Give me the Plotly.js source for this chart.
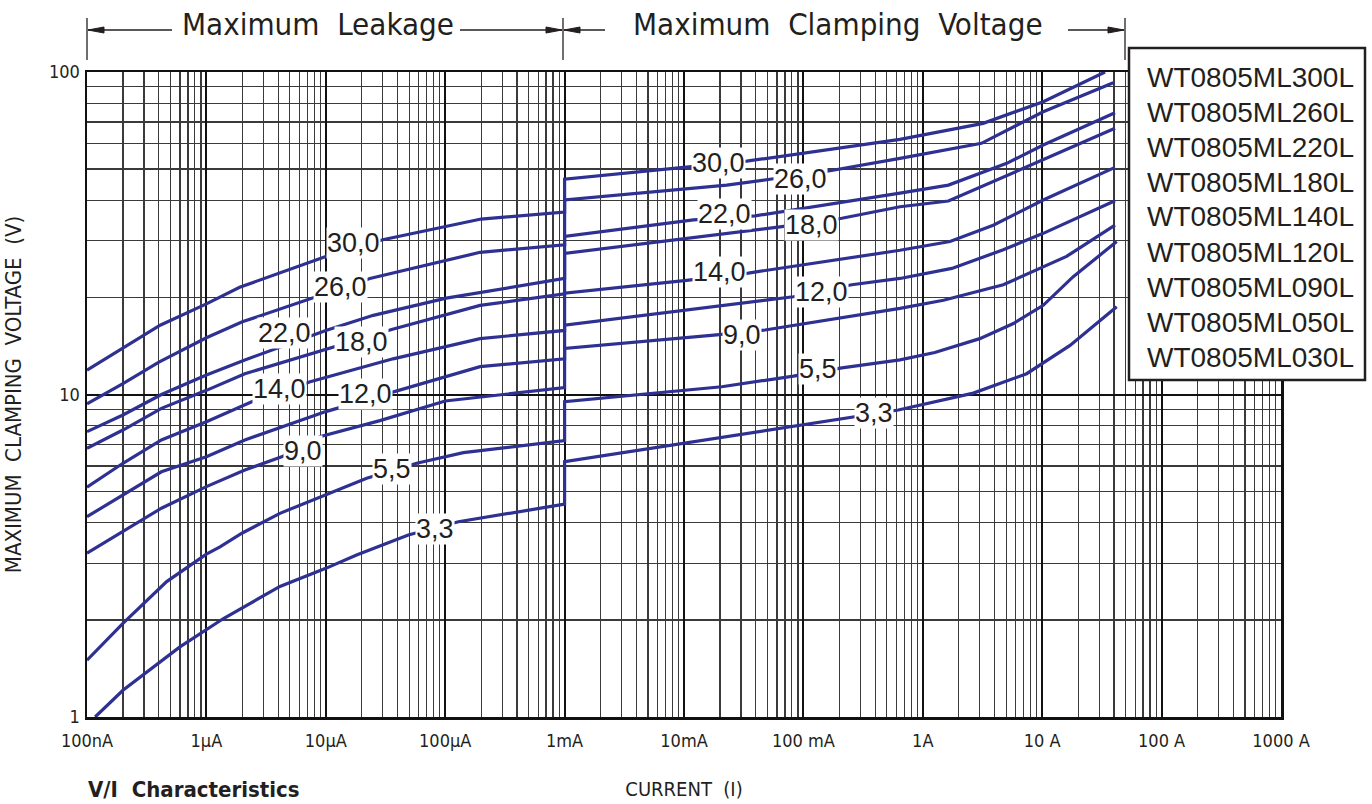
<!DOCTYPE html>
<html><head><meta charset="utf-8">
<script src="https://cdn.plot.ly/plotly-3.0.1.min.js"></script>
<style>html,body{margin:0;padding:0;background:#fff}#chart{width:1372px;height:804px}</style>
</head><body><div id="chart"></div>
<script>
// ---------------- DATA ----------------
const partNames = ['WT0805ML300L','WT0805ML260L','WT0805ML220L','WT0805ML180L','WT0805ML140L',
                   'WT0805ML120L','WT0805ML090L','WT0805ML050L','WT0805ML030L'];
const curveLabels = ['30,0','26,0','22,0','18,0','14,0','12,0','9,0','5,5','3,3'];

// current (A) / voltage (V) per curve, leakage part then clamping part (step at 1 mA)
const i300 = [1e-7,2e-7,4.1e-7,1e-6,1.9e-6,1e-5,3e-5,2e-4,1e-3,1e-3,1.05e-2,3.35e-2,0.644,3.2,10.2,33.6];
const v300 = [11.9,13.9,16.4,19.1,21.5,26.8,30.2,35.0,36.8,46.5,50.6,52.9,61.8,69.3,80.9,100];

const i260 = [1e-7,2e-7,4e-7,1e-6,2e-6,7.6e-6,2.34e-5,1.96e-4,1e-3,1e-3,2.28e-2,5.25e-2,0.167,0.644,3.1,10.2,39.4];
const v260 = [9.36,10.8,12.6,15.0,16.8,19.9,22.9,27.6,29.1,40.1,44.6,46.5,49.4,54.0,60.1,75.3,92.6];

const i220 = [1e-7,2e-7,4.2e-7,1e-6,2.1e-6,4.55e-6,1e-5,2.5e-5,1.02e-4,1e-3,1e-3,1.2e-2,3.94e-2,0.644,1.64,5.05,10.2,40.7];
const v220 = [7.67,8.64,10.0,11.5,12.8,14.2,15.8,17.6,19.9,22.9,30.9,34.8,35.8,42.1,44.6,52.1,59.4,74.8];

const i180 = [1e-7,2e-7,4.2e-7,1e-6,2.1e-6,1e-5,3.56e-5,1.96e-4,1e-3,1e-3,6.37e-2,0.21,0.644,1.64,10.2,40.7];
const v180 = [6.81,7.76,9.06,10.3,11.6,13.8,15.9,18.9,20.5,27.4,33.1,35.2,38.2,39.8,53.3,66.9];

const i140 = [1e-7,2e-7,4.2e-7,1e-6,2.4e-6,7.4e-6,3.66e-5,1.96e-4,1e-3,1e-3,1.05e-2,3.46e-2,0.644,1.69,3.89,10.2,40.7];
const v140 = [5.16,6.12,7.23,8.23,9.5,10.96,12.9,14.9,15.8,20.6,22.6,23.8,28.0,29.8,33.5,40.1,50.6];

const i120 = [1e-7,2e-7,4.2e-7,1e-6,2.1e-6,1e-5,3.8e-5,1.96e-4,1e-3,1e-3,8.24e-2,0.254,0.644,1.75,4.72,10.2,40.7];
const v120 = [4.18,4.88,5.76,6.41,7.23,8.85,10.2,12.2,12.9,16.4,20.1,21.9,22.9,24.6,28.1,31.6,39.9];

const i090 = [1e-7,2e-7,4.2e-7,1e-6,2.1e-6,4.27e-6,8.9e-6,2.84e-5,1e-4,1e-3,1e-3,1.88e-2,4.77e-2,0.644,1.49,4.72,16.0,40.7];
const v090 = [3.22,3.76,4.44,5.18,5.83,6.41,7.40,8.3,9.55,10.5,13.9,15.3,15.85,18.5,19.6,21.9,26.8,33.5];

const i050 = [1e-7,2e-7,4.65e-7,1e-6,1.3e-6,2e-6,4.13e-6,9.85e-6,2.2e-5,5.77e-5,1.42e-4,1e-3,1e-3,2.07e-2,8.24e-2,0.21,0.644,1.26,3.0,5.74,10.2,18.2,42.1];
const v050 = [1.50,1.95,2.63,3.20,3.37,3.72,4.28,4.88,5.5,6.12,6.6,7.2,9.5,10.57,11.4,12.1,12.8,13.5,14.9,16.6,18.9,23.2,29.8];

const i030 = [1.17e-7,2e-7,6e-7,1.39e-6,4.13e-6,1e-5,1.81e-5,4.91e-5,1.29e-4,1e-3,1e-3,0.223,0.624,2.65,7.41,17.1,42.1];
const v030 = [1.0,1.21,1.65,2.02,2.54,2.89,3.18,3.67,4.03,4.57,6.19,8.44,8.95,10.1,11.6,14.2,18.7];

const xTickVals = [1e-7,1e-6,1e-5,1e-4,1e-3,1e-2,1e-1,1,10,100,1000];
const xTickText = ['100nA','1\u00b5A','10\u00b5A','100\u00b5A','1mA','10mA','100 mA','1A','10 A','100 A','1000 A'];
const yTickVals = [1,10,100];
const yTickText = ['1','10','100'];

// ---------------- BUILD ----------------
const currents = [i300,i260,i220,i180,i140,i120,i090,i050,i030];
const voltages = [v300,v260,v220,v180,v140,v120,v090,v050,v030];
const LINE = '#2e3192';

const traces = currents.map((xs, k) => ({
  type: 'scatter', mode: 'lines', name: partNames[k],
  x: xs, y: voltages[k], showlegend: false, hoverinfo: 'x+y+name',
  line: {color: LINE, width: 3.2}
}));

function minorVals(lo, hi) {
  const out = [];
  for (let e = lo; e < hi; e++) for (let d = 2; d <= 9; d++) out.push(d * Math.pow(10, e));
  return out;
}

// label placement on curves (current, voltage) : leakage side and clamping side
const labelPosLeak  = [[1.71e-5,29.6],[1.33e-5,21.5],[4.51e-6,15.5],[1.99e-5,14.5],[4.13e-6,10.4],
                       [2.15e-5,10.04],[6.44e-6,6.68],[3.58e-5,5.87],[8.22e-5,3.83]];
const labelPosClamp = [[1.93e-2,52.2],[9.38e-2,46.6],[2.2e-2,36.3],[0.116,33.5],[2.0e-2,24.0],
                       [0.143,20.8],[3.06e-2,15.3],[0.132,12.0],[0.39,8.76]];

const annotations = [];
const labFont = {family: 'Liberation Sans, Arial, sans-serif', size: 27, color: '#231f20'};
[labelPosLeak, labelPosClamp].forEach(set => set.forEach((p, k) => {
  annotations.push({xref: 'x', yref: 'y', x: Math.log10(p[0]), y: Math.log10(p[1]),
    text: curveLabels[k], showarrow: false, font: labFont, bgcolor: '#ffffff', borderpad: 0,
    xanchor: 'center', yanchor: 'middle'});
}));

// legend text (box drawn as shape)
const W = 1372, H = 804, L = 87, R = 1281, T = 72, B = 717;
const px = x => (x - L) / (R - L);
const py = y => (B - y) / (B - T);
partNames.forEach((n, k) => {
  annotations.push({xref: 'paper', yref: 'paper', x: px(1145), y: py(77 + 35 * k),
    xanchor: 'left', yanchor: 'middle', showarrow: false, text: n,
    font: {family: 'Liberation Sans, Arial, sans-serif', size: 28, color: '#231f20'}});
});

const thinFont = {family: 'DejaVu Sans Condensed, DejaVu Sans, sans-serif', size: 31, color: '#231f20'};
annotations.push({xref: 'paper', yref: 'paper', x: px(318), y: py(24), showarrow: false,
  text: 'Maximum\u00a0\u00a0Leakage', font: thinFont, xanchor: 'center', yanchor: 'middle'});
annotations.push({xref: 'paper', yref: 'paper', x: px(838), y: py(24), showarrow: false,
  text: 'Maximum\u00a0\u00a0Clamping\u00a0\u00a0Voltage', font: thinFont, xanchor: 'center', yanchor: 'middle'});
annotations.push({xref: 'paper', yref: 'paper', x: 0, y: py(803), showarrow: false,
  text: '<b>V/I\u00a0\u00a0Characteristics</b>', xanchor: 'left', yanchor: 'bottom', borderpad: 0,
  font: {family: 'DejaVu Sans Condensed, DejaVu Sans, sans-serif', size: 22, color: '#231f20'}});

const shapes = [];
const lineStyle = {color: '#231f20', width: 1.3};
[87, 563, 1125].forEach(xp => shapes.push({type: 'line', xref: 'paper', yref: 'paper',
  x0: px(xp), x1: px(xp), y0: py(18), y1: py(60), line: lineStyle}));
[[88,172],[460,562],[564,605],[1068,1124]].forEach(s => shapes.push({type: 'line', xref: 'paper', yref: 'paper',
  x0: px(s[0]), x1: px(s[1]), y0: py(30), y1: py(30), line: lineStyle}));
function arrowHead(tip, dir) {
  const b = tip - dir * 16;
  return {type: 'path', xref: 'paper', yref: 'paper', fillcolor: '#231f20', line: {color: '#231f20', width: 1},
    path: `M ${px(tip)} ${py(30)} L ${px(b)} ${py(27)} L ${px(b)} ${py(33)} Z`};
}
shapes.push(arrowHead(88, -1), arrowHead(562, 1), arrowHead(564, -1), arrowHead(1124, 1));
// legend box
shapes.push({type: 'rect', xref: 'paper', yref: 'paper', layer: 'above',
  x0: px(1129), x1: px(1365), y0: py(380), y1: py(48), fillcolor: '#ffffff',
  line: {color: '#231f20', width: 2.5}});

const tickFont = {family: 'DejaVu Sans Condensed, DejaVu Sans, sans-serif', size: 18, color: '#231f20'};
const layout = {
  width: W, height: H, margin: {l: L, r: W - R, t: T, b: H - B},
  paper_bgcolor: '#ffffff', plot_bgcolor: '#ffffff', showlegend: false,
  xaxis: {type: 'log', range: [-7, 3], tickmode: 'array', tickvals: xTickVals, ticktext: xTickText,
    tickfont: tickFont, ticks: '', ticklabelstandoff: 6, showgrid: true, gridcolor: '#111111', gridwidth: 2,
    minor: {tickmode: 'array', tickvals: minorVals(-7, 3), showgrid: true, gridcolor: '#3a3a3a', gridwidth: 1.2, ticks: ''},
    showline: true, linecolor: '#111111', linewidth: 2.5, mirror: true, zeroline: false,
    title: {text: 'CURRENT\u00a0\u00a0(I)', font: {family: 'DejaVu Sans Condensed, DejaVu Sans, sans-serif', size: 20, color: '#231f20'}, standoff: 32}},
  yaxis: {type: 'log', range: [0, 2], tickmode: 'array', tickvals: yTickVals, ticktext: yTickText,
    tickfont: tickFont, ticks: '', ticklabelstandoff: 1, showgrid: true, gridcolor: '#111111', gridwidth: 2,
    minor: {tickmode: 'array', tickvals: minorVals(0, 2), showgrid: true, gridcolor: '#3a3a3a', gridwidth: 1.2, ticks: ''},
    showline: true, linecolor: '#111111', linewidth: 2.5, mirror: true, zeroline: false,
    title: {text: 'MAXIMUM\u00a0\u00a0CLAMPING\u00a0\u00a0VOLTAGE\u00a0\u00a0(V)', font: {family: 'DejaVu Sans Condensed, DejaVu Sans, sans-serif', size: 22, color: '#231f20'}, standoff: 22}},
  annotations: annotations, shapes: shapes
};

Plotly.newPlot('chart', traces, layout, {displayModeBar: false, staticPlot: true});
</script></body></html>
